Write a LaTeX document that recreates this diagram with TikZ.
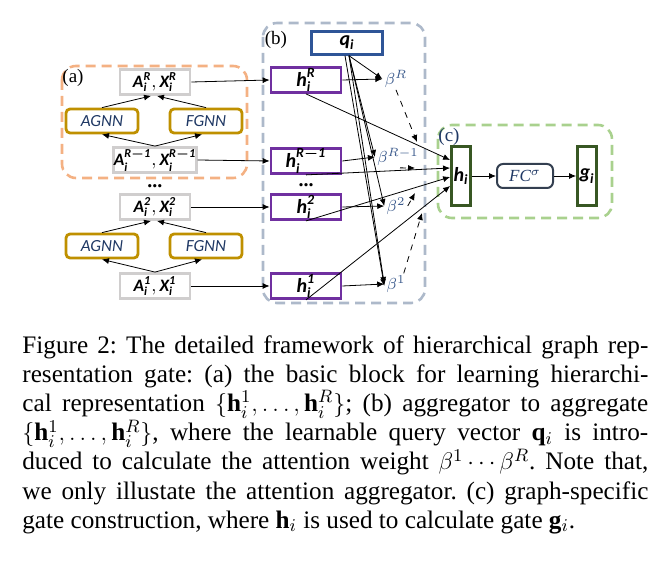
\documentclass[tikz,border=0pt]{standalone}
\usepackage{fontspec}
\setmainfont{Liberation Serif}
\newfontfamily\carl{Carlito}
\usepackage{amsmath}
\usepackage{bm}
\usetikzlibrary{arrows.meta}

\definecolor{dashorange}{HTML}{F4B183}
\definecolor{dashblue}{HTML}{ADB9CA}
\definecolor{dashgreen}{HTML}{A9D18E}
\definecolor{boxgray}{HTML}{D0CECE}
\definecolor{boxgold}{HTML}{BF9000}
\definecolor{boxpurple}{HTML}{7030A0}
\definecolor{boxblue}{HTML}{2F5597}
\definecolor{boxgreen}{HTML}{385723}
\definecolor{boxslate}{HTML}{333F50}
\definecolor{textnavy}{HTML}{1F3864}
\definecolor{betablue}{HTML}{3B5A8C}

% bold italic Carlito letters inside math
\newcommand{\cb}[1]{\text{\carl\bfseries\itshape #1}}

\begin{document}
\begin{tikzpicture}[x=0.5pt,y=-0.5pt,
        >={Latex[length=3.5pt,width=3pt]},
        graynode/.style={draw=boxgray, line width=1.4pt, minimum width=35pt, minimum height=12.5pt, inner sep=0pt, font=\fontsize{8.7}{9}\selectfont},
        goldnode/.style={draw=boxgold, line width=1.4pt, rounded corners=2pt, minimum width=36pt, minimum height=12pt, inner sep=0pt, text=textnavy, font=\carl\itshape\fontsize{8.5}{9}\selectfont},
        purplenode/.style={draw=boxpurple, line width=1.4pt, minimum width=35pt, minimum height=12.5pt, inner sep=0pt, font=\fontsize{10}{10}\selectfont},
        greennode/.style={draw=boxgreen, line width=1.4pt, minimum width=9.5pt, minimum height=29.5pt, inner sep=0pt, font=\fontsize{10}{10}\selectfont},
        betanode/.style={text=betablue, inner sep=1pt, font=\fontsize{8}{9}\selectfont},
        group/.style={line width=1.3pt, rounded corners=7pt, dash pattern=on 5pt off 3pt},
        grouplabel/.style={inner sep=0pt, font=\fontsize{9.5}{10}\selectfont},
        ]
        \useasboundingbox (0,0) rectangle (671,561);

        % Groups
        \draw[group, draw=dashorange] (62,66) rectangle (247,178);
        \draw[group, draw=dashblue] (263,23) rectangle (425,303);
        \draw[group, draw=dashgreen] (438,125) rectangle (612,218);
        \node[grouplabel] (la) at (73,78) {(a)};
        \node[grouplabel] (lb) at (276,40) {(b)};
        \node[grouplabel, text=textnavy] (lc) at (449,137) {(c)};

        % Nodes (a)
        \node[graynode] (aR) at (155,82) {$\cb{A}_{\cb{i}}^{\cb{R}},\cb{X}_{\cb{i}}^{\cb{R}}$};
        \node[goldnode] (agnn2) at (102,121) {AGNN};
        \node[goldnode] (fgnn2) at (206,121) {FGNN};
        \node[graynode] (aR1) at (155,160) {$\cb{A}_{\cb{i}}^{\cb{R}\boldsymbol{-}\cb{1}},\cb{X}_{\cb{i}}^{\cb{R}\boldsymbol{-}\cb{1}}$};
        \node[inner sep=0pt, font=\bfseries] (dotsa) at (155,186) {...};
        \node[graynode] (a2) at (155,207) {$\cb{A}_{\cb{i}}^{\cb{2}},\cb{X}_{\cb{i}}^{\cb{2}}$};
        \node[goldnode] (agnn1) at (102,246) {AGNN};
        \node[goldnode] (fgnn1) at (206,246) {FGNN};
        \node[graynode] (a1) at (155,286) {$\cb{A}_{\cb{i}}^{\cb{1}},\cb{X}_{\cb{i}}^{\cb{1}}$};

        \draw[->] (aR1.north) -- (agnn2.south);
        \draw[->] (aR1.north) -- ([xshift=-2pt]fgnn2.south);
        \draw[->] (agnn2.north) -- ([xshift=-2pt]aR.south);
        \draw[->] (fgnn2.north) -- ([xshift=1pt]aR.south);
        \draw[->] (a1.north) -- (agnn1.south);
        \draw[->] (a1.north) -- ([xshift=-2pt]fgnn1.south);
        \draw[->] (agnn1.north) -- ([xshift=-2pt]a2.south);
        \draw[->] (fgnn1.north) -- ([xshift=1pt]a2.south);

        % Nodes (b)
        \node[draw=boxblue, line width=1.2pt, minimum width=35.5pt, minimum height=11.5pt, inner sep=0pt, font=\fontsize{10}{10}\selectfont] (q) at (347,43) {$\cb{q}_{\cb{i}}$};
        \node[purplenode] (hR) at (306,80) {$\cb{h}_{\cb{i}}^{\cb{R}}$};
        \node[purplenode] (hR1) at (306,161) {$\cb{h}_{\cb{i}}^{\cb{R}\boldsymbol{-}\cb{1}}$};
        \node[inner sep=0pt, font=\bfseries] (dotsb) at (306,185) {...};
        \node[purplenode] (h2) at (306,207) {$\cb{h}_{\cb{i}}^{\cb{2}}$};
        \node[purplenode] (h1) at (306,286) {$\cb{h}_{\cb{i}}^{\cb{1}}$};
        \node[betanode] (bR) at (396,79) {$\beta^R$};
        \node[betanode] (bR1) at (398,157) {$\beta^{R-1}$};
        \node[betanode] (b2) at (396,206) {$\beta^2$};
        \node[betanode] (b1) at (396,284) {$\beta^1$};

        \draw[->] (aR.east) -- (hR.west);
        \draw[->] (aR1.east) -- (hR1.west);
        \draw[->] (a2.east) -- (h2.west);
        \draw[->] (a1.east) -- (h1.west);

        \draw[->] (hR.east) -- (bR.west);
        \draw[->] (hR1.east) -- (bR1.west);
        \draw[->] (h2.east) -- (b2.west);
        \draw[->] (h1.east) -- (b1.west);

        % query to weights
        \draw[->] ([xshift=1pt]q.south) -- (bR.west);
        \draw[->] ([xshift=1pt]q.south) -- (bR1.west);
        \draw[->] ([xshift=1pt]q.south) -- (b2.west);
        \draw[->] ([xshift=1pt]q.south) -- (b1.west);
        \draw[->] ([xshift=-1pt]q.south) -- ([yshift=-1pt]b1.west);

        % weights (dashed)
        \coordinate (dR) at (417,142);
        \coordinate (dR1) at (415,168);
        \coordinate (d2) at (415,193);
        \coordinate (d1) at (422,213);
        \draw[->, dashed] (bR.south) -- (dR);
        \draw[->, dashed] ([xshift=1pt]bR1.south) -- (dR1);
        \draw[->, dashed] (b2.east) -- (d2);
        \draw[->, dashed] ([xshift=-2pt]b1.north east) -- (d1);

        % Nodes (c)
        \node[greennode] (hi) at (461,176) {$\cb{h}_{\cb{i}}$};
        \node[draw=boxslate, line width=1pt, rounded corners=3pt, minimum width=28pt, minimum height=12pt, inner sep=0pt, text=textnavy, font=\fontsize{8.5}{9}\selectfont] (fc) at (525,176) {$\mathit{FC}^{\sigma}$};
        \node[greennode] (gi) at (587,176) {$\cb{g}_{\cb{i}}$};

        % representations to h_i
        \draw[->] (hR.south) -- ([yshift=8pt]hi.west);
        \draw[->] (hR1.south) -- ([yshift=4pt]hi.west);
        \draw[->] (h2.south) -- ([yshift=-0.5pt]hi.west);
        \draw[->] (h1.south) -- ([yshift=-5pt]hi.west);

        \draw[->] (hi.east) -- (fc.west);
        \draw[->] (fc.east) -- (gi.west);

        % Caption
        \node[anchor=north west, text width=313pt, align=justify, inner sep=0pt, font=\fontsize{12.6}{14.6}\selectfont] (caption) at (22,335) {\frenchspacing\lineskiplimit=-6pt\relax Figure 2: The detailed framework of hierarchical graph rep-\linebreak resentation gate: (a) the basic block for learning hierarchi-\linebreak cal representation $\{\mathbf{h}_i^1,\ldots,\mathbf{h}_i^R\}$; (b) aggregator to aggregate\linebreak $\{\mathbf{h}_i^1,\ldots,\mathbf{h}_i^R\}$, where the learnable query vector $\mathbf{q}_i$ is intro-\linebreak duced to calculate the attention weight $\beta^1\cdots\beta^R$. Note that,\linebreak we only illustate the attention aggregator. (c) graph-specific\linebreak gate construction, where $\mathbf{h}_i$ is used to calculate gate $\mathbf{g}_i$.};

    \end{tikzpicture}
\end{document}
